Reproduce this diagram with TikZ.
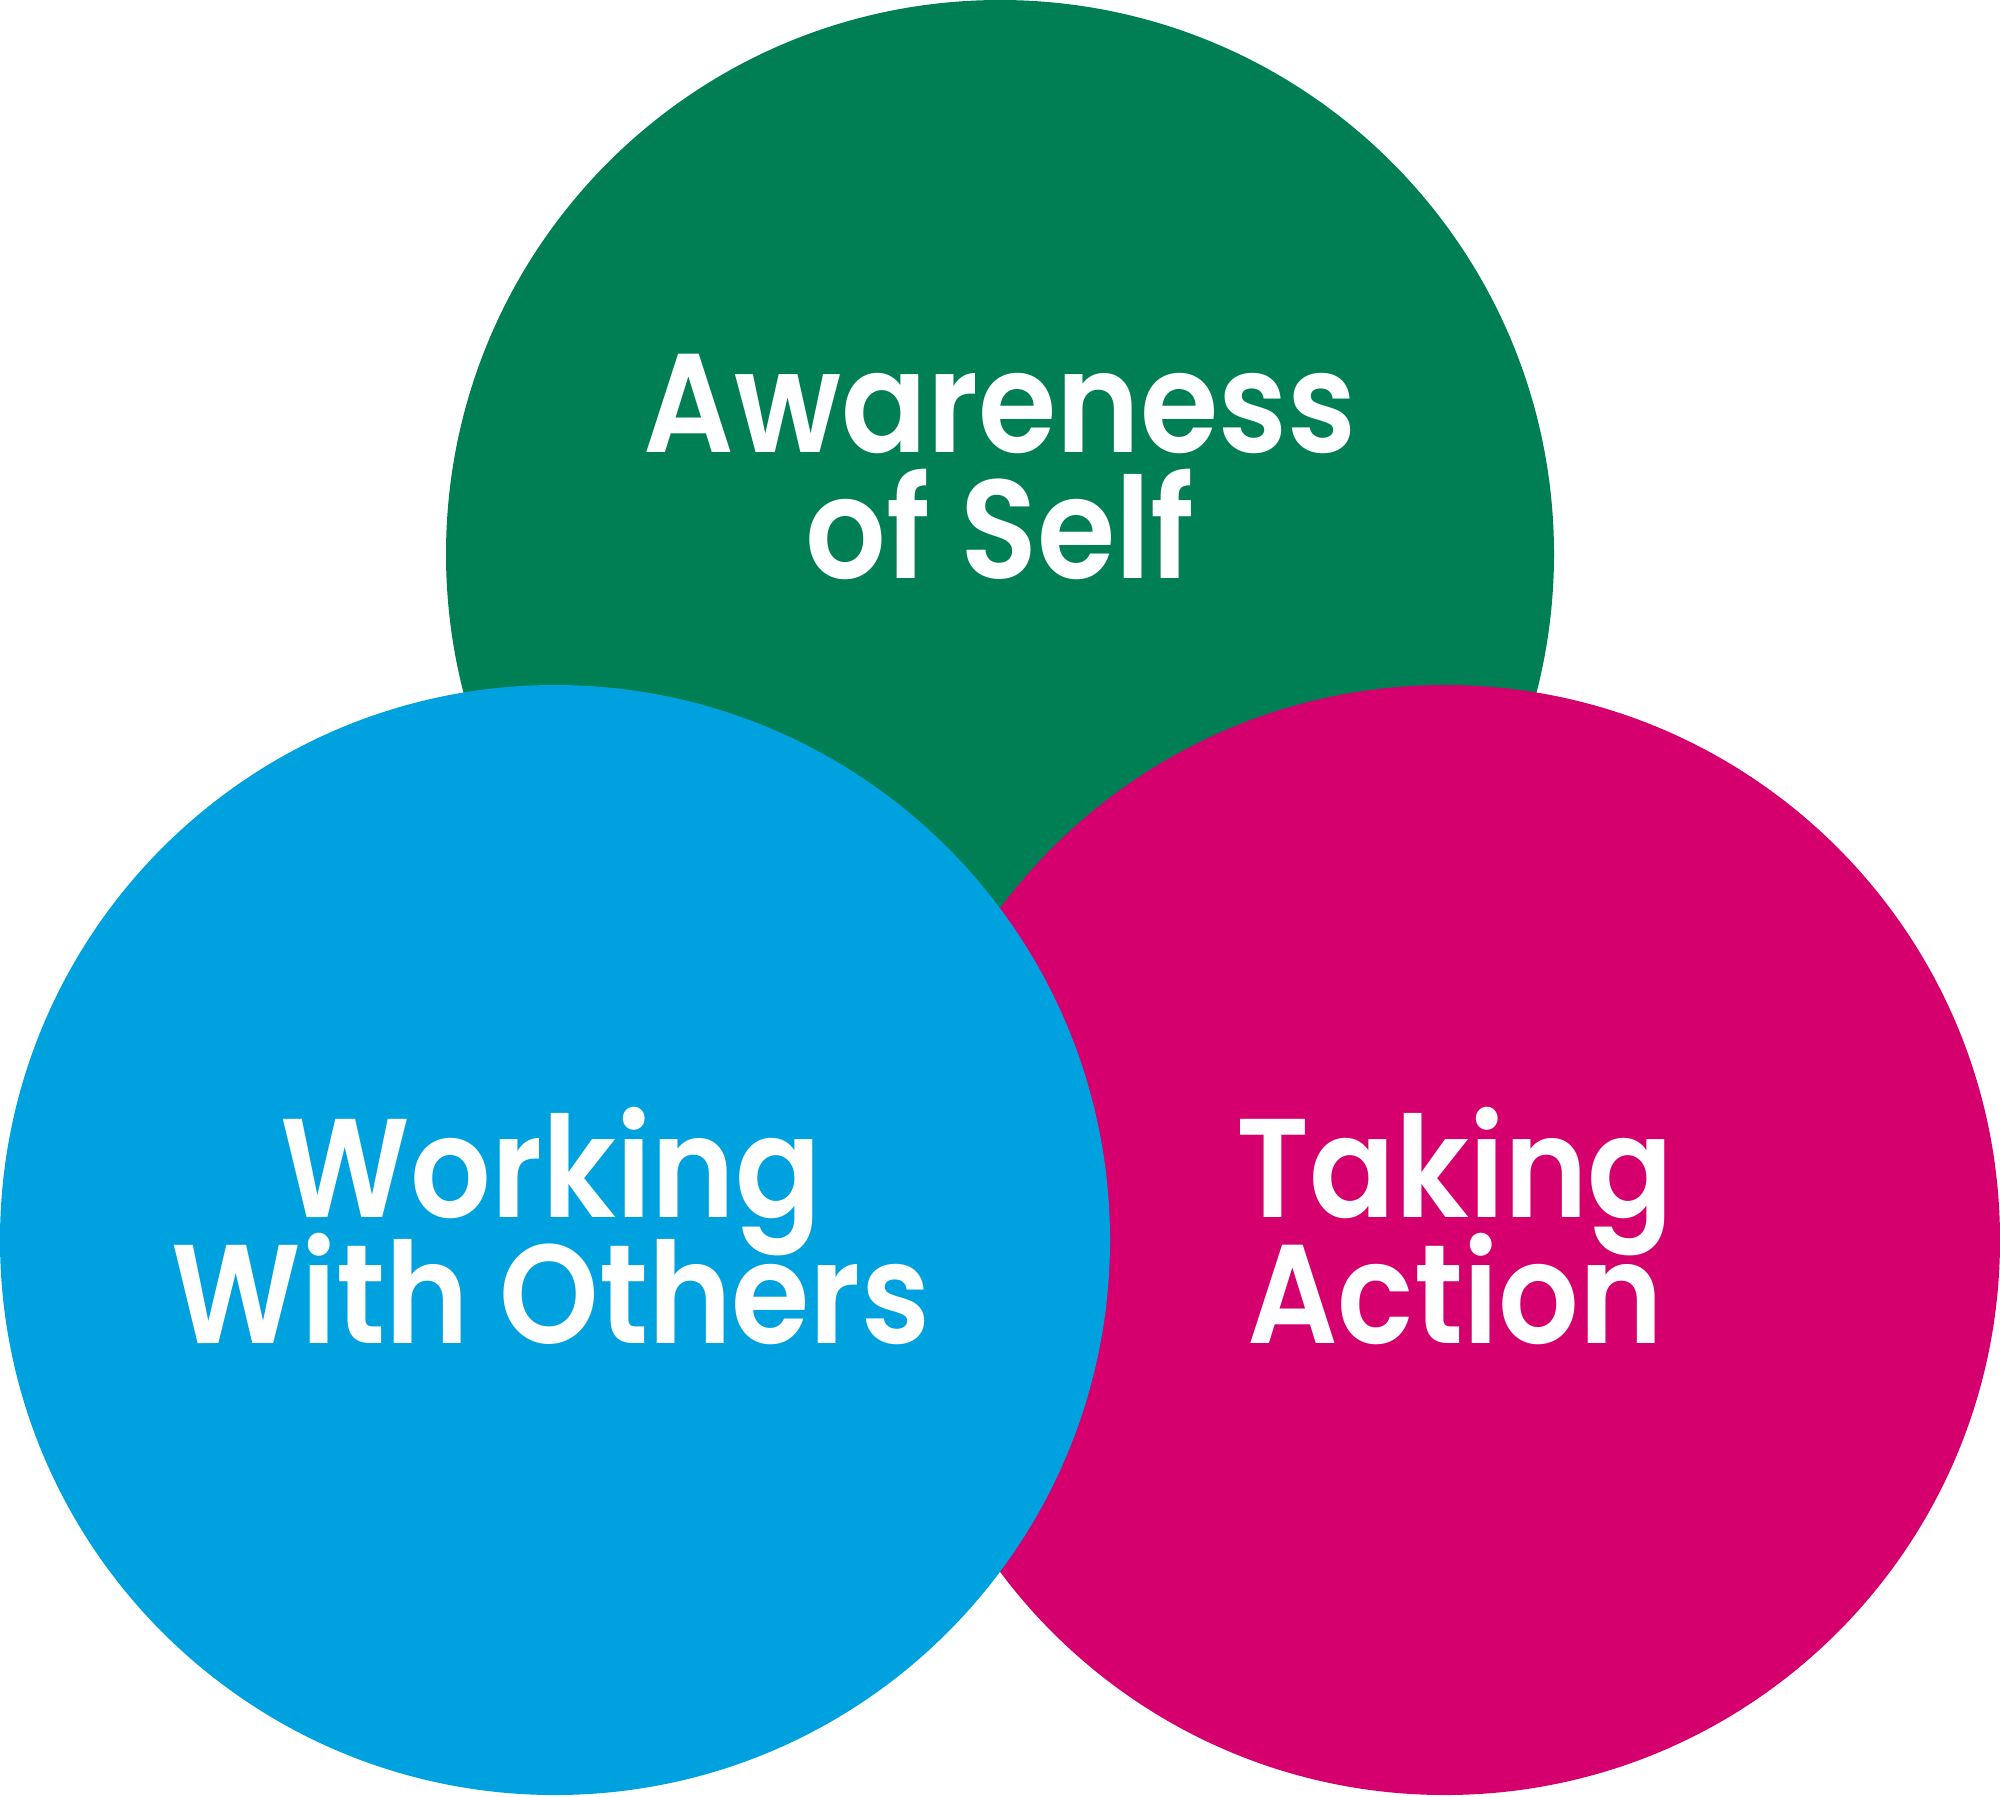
\documentclass[tikz,border=0pt]{standalone}
\usepackage{fontspec}
\setmainfont{Poppins}[UprightFont=* SemiBold, BoldFont=* Bold, FakeStretch=0.9]
\definecolor{cgreen}{HTML}{007F54}
\definecolor{cblue}{HTML}{00A1DF}
\definecolor{cmag}{HTML}{D5006D}
\setlength{\lineskiplimit}{-100pt}
\setlength{\lineskip}{0pt}
\tikzset{
  lbl/.style={text=white, font=\fontsize{40}{35.6}\selectfont, align=center, inner sep=0pt, anchor=base},
}
\begin{document}
\begin{tikzpicture}[x=0.01cm,y=-0.01cm]
\useasboundingbox (0,0) rectangle (2000,1796);
\fill[cgreen] (1000,554) circle[radius=554];
\fill[cmag] (1445,1240) circle[radius=555];
\fill[cblue] (555,1240) circle[radius=555];
\node[lbl] (aw) at (1000,578) {Awareness\\of Self};
\node[lbl] (wo) at (551,1343) {Working\\With Others};
\node[lbl] (ta) at (1455,1343) {Taking\\Action};
\end{tikzpicture}
\end{document}
